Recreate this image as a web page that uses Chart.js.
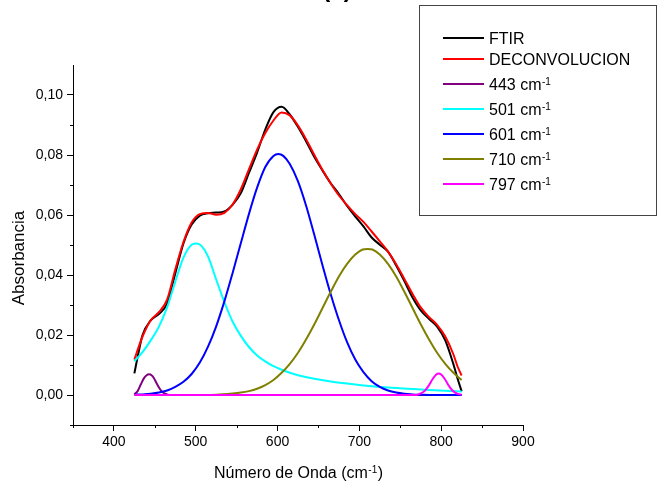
<!DOCTYPE html>
<html>
<head>
<meta charset="utf-8">
<script src="https://cdn.jsdelivr.net/npm/chart.js@4.4.1/dist/chart.umd.min.js"></script>
<style>
  body { margin: 0; background: #fff; }
  canvas { display: block; }
</style>
</head>
<body>
<canvas id="myChart" width="658" height="489"></canvas>
<script>
// values (wavenumber in cm-1, absorbance)
const gridX = [425, 430, 435, 445, 455, 465, 475, 485, 495, 505, 515, 525, 535, 545, 555, 565, 575, 585, 595, 605, 615,
  625, 635, 645, 655, 665, 675, 685, 695, 705, 715, 725, 735, 745, 755, 765, 775, 785, 795, 805, 815, 820, 825]
const ftirY = [0.0072, 0.0140, 0.0200, 0.0249, 0.0270, 0.0305, 0.0405, 0.0505, 0.0568, 0.0598, 0.0606, 0.0608, 0.0612, 0.0634, 0.0672, 0.0740, 0.0808, 0.0885, 0.0943, 0.0961, 0.0935,
  0.0893, 0.0845, 0.0793, 0.0748, 0.0706, 0.0670, 0.0630, 0.0595, 0.0562, 0.0525, 0.0501, 0.0478, 0.0432, 0.0380, 0.0325, 0.0282, 0.0254, 0.0228, 0.0182, 0.0102, 0.0055, 0.0012]
const deconvY = [0.0118, 0.0158, 0.0195, 0.0249, 0.0276, 0.0318, 0.0418, 0.0510, 0.0575, 0.0603, 0.0607, 0.0601, 0.0607, 0.0635, 0.0685, 0.0752, 0.0818, 0.0873, 0.0915, 0.0942, 0.0932,
  0.0898, 0.0852, 0.0800, 0.0750, 0.0705, 0.0665, 0.0633, 0.0603, 0.0577, 0.0545, 0.0512, 0.0478, 0.0436, 0.0387, 0.0337, 0.0292, 0.0260, 0.0234, 0.0195, 0.0135, 0.0095, 0.0065]

const p443X = [425, 429, 433, 437, 440, 443, 446, 449, 452, 456, 460, 465, 470, 825]
const p443Y = [0.0003, 0.0013, 0.0036, 0.0057, 0.0066, 0.0069, 0.0066, 0.0056, 0.0040, 0.0021, 0.0008, 0.0002, 0, 0]

const p501X = [425, 435, 445, 455, 465, 475, 485, 495, 501, 507, 515, 525, 535, 545, 555, 565, 575, 585, 595, 605, 615, 625, 645, 665, 685, 705, 725, 745, 765, 785, 805, 825]
const p501Y = [0.0113, 0.0143, 0.0182, 0.0228, 0.0292, 0.0378, 0.0458, 0.0501, 0.0505, 0.0497, 0.0462, 0.0385, 0.0310, 0.0245, 0.0198, 0.0160, 0.0132, 0.0112, 0.0096, 0.0084, 0.0074, 0.0066, 0.0054, 0.0045, 0.0038, 0.0032, 0.0027, 0.0023, 0.0020, 0.0017, 0.0014, 0.0012]

const p601X = [425, 435, 445, 455, 465, 475, 485, 495, 505, 515, 525, 535, 545, 555, 565, 575, 585, 595, 601, 607, 615,
  625, 635, 645, 655, 665, 675, 685, 695, 705, 715, 725, 735, 745, 755, 765, 775, 790, 825]
const p601Y = [0.0001, 0.0002, 0.0004, 0.0008, 0.0015, 0.0027, 0.0044, 0.0070, 0.0108, 0.0161, 0.0229, 0.0312, 0.0406, 0.0505, 0.0603, 0.0691, 0.0760, 0.0797, 0.0803, 0.0797, 0.0770,
  0.0712, 0.0630, 0.0533, 0.0432, 0.0336, 0.0250, 0.0176, 0.0118, 0.0076, 0.0046, 0.0027, 0.0015, 0.0008, 0.0004, 0.0002, 0.0001, 0, 0]

const p710X = [425, 495, 525, 545, 555, 565, 575, 585, 595, 605, 615, 625, 635, 645, 655, 665, 675, 685, 695, 704, 710, 716,
  725, 735, 745, 755, 765, 775, 785, 795, 805, 815, 825]
const p710Y = [0, 0, 0.0001, 0.0005, 0.0008, 0.0013, 0.0021, 0.0033, 0.0050, 0.0074, 0.0104, 0.0141, 0.0186, 0.0236, 0.0290, 0.0344, 0.0395, 0.0437, 0.0468, 0.0485, 0.0487, 0.0485,
  0.0468, 0.0437, 0.0395, 0.0344, 0.0290, 0.0236, 0.0186, 0.0141, 0.0104, 0.0074, 0.0050]

const p797X = [425, 770, 775, 780, 785, 790, 794, 797, 800, 804, 809, 814, 819, 825]
const p797Y = [0, 0, 0.0005, 0.0014, 0.0032, 0.0055, 0.0068, 0.0072, 0.0068, 0.0055, 0.0032, 0.0014, 0.0005, 0.0001]

const seriesLabels = ['FTIR', 'DECONVOLUCION', '443 cm-1', '501 cm-1', '601 cm-1', '710 cm-1', '797 cm-1']
const seriesColors = ['#000000', '#ff0000', '#800080', '#00ffff', '#0000ff', '#808000', '#ff00ff']

const xTicks = [400, 500, 600, 700, 800, 900]
const xMinor = [350, 450, 550, 650, 750, 850]
const yTicks = [0, 0.02, 0.04, 0.06, 0.08, 0.10]
const yMinor = [-0.01, 0.01, 0.03, 0.05, 0.07, 0.09]

const family = '"Liberation Sans", Arial, sans-serif'

let pts = (xs, ys) => xs.map((x, i) => ({ x: x, y: ys[i] }))

let seriesData = [
  pts(gridX, ftirY), pts(gridX, deconvY), pts(p443X, p443Y), pts(p501X, p501Y),
  pts(p601X, p601Y), pts(p710X, p710Y), pts(p797X, p797Y)
]

// later curves go on top, as in the original plot
let datasets = seriesData.map((d, i) => ({
  label: seriesLabels[i],
  data: d,
  borderColor: seriesColors[i],
  backgroundColor: seriesColors[i],
  borderWidth: 2,
  fill: false,
  pointRadius: 0,
  cubicInterpolationMode: 'monotone',
  order: seriesData.length - i
}))

// draws "text" with a trailing "-1" superscript when label has cm-1
function drawSup(ctx, base, sup, tail, x, y, size, align) {
  ctx.font = size + 'px ' + family
  let wBase = ctx.measureText(base).width
  let wTail = ctx.measureText(tail).width
  ctx.font = Math.round(size * 0.62) + 'px ' + family
  let wSup = ctx.measureText(sup).width
  let start = align === 'center' ? x - (wBase + wSup + wTail) / 2 : x
  ctx.textAlign = 'left'
  ctx.textBaseline = 'alphabetic'
  ctx.font = size + 'px ' + family
  ctx.fillText(base, start, y)
  ctx.font = Math.round(size * 0.62) + 'px ' + family
  ctx.fillText(sup, start + wBase + 0.5, y - size * 0.33)
  ctx.font = size + 'px ' + family
  ctx.fillText(tail, start + wBase + wSup + 1, y)
}

const extras = {
  id: 'extras',
  afterDraw(chart) {
    let ctx = chart.ctx
    let area = chart.chartArea
    let xs = chart.scales.x, ys = chart.scales.y
    ctx.save()
    ctx.strokeStyle = '#000'
    ctx.lineWidth = 1
    ctx.beginPath()
    xMinor.forEach(v => {
      let px = Math.round(xs.getPixelForValue(v)) + 0.5
      ctx.moveTo(px, area.bottom)
      ctx.lineTo(px, area.bottom + 3)
    })
    yMinor.forEach(v => {
      let py = Math.round(ys.getPixelForValue(v)) + 0.5
      ctx.moveTo(area.left, py)
      ctx.lineTo(area.left - 3, py)
    })
    ctx.stroke()

    ctx.fillStyle = '#000'
    // title, mostly cut off at the top edge
    ctx.font = 'bold 24px ' + family
    ctx.textAlign = 'center'
    ctx.textBaseline = 'alphabetic'
    ctx.fillText('(a)', 337, -3)

    // axis titles
    drawSup(ctx, 'Número de Onda (cm', '-1', ')', 298, 478, 16, 'center')
    ctx.save()
    ctx.translate(19, 258)
    ctx.rotate(-Math.PI / 2)
    ctx.font = '17px ' + family
    ctx.textAlign = 'center'
    ctx.textBaseline = 'middle'
    ctx.fillText('Absorbancia', 0, 0)
    ctx.restore()

    // legend box
    ctx.strokeStyle = '#444'
    ctx.lineWidth = 1
    ctx.strokeRect(419.5, 5.5, 237, 210)
    let rows = [38, 59, 84, 109, 134, 159, 184]
    chart.data.datasets.forEach((ds, i) => {
      let y = rows[i]
      ctx.strokeStyle = ds.borderColor
      ctx.lineWidth = 2
      ctx.beginPath()
      ctx.moveTo(443, y)
      ctx.lineTo(484, y)
      ctx.stroke()
      ctx.fillStyle = '#000'
      if (ds.label.endsWith(' cm-1')) {
        drawSup(ctx, ds.label.replace(' cm-1', ' cm'), '-1', '', 489, y + 6, 16, 'left')
      } else {
        ctx.font = '16px ' + family
        ctx.textAlign = 'left'
        ctx.textBaseline = 'alphabetic'
        ctx.fillText(ds.label, 489, y + 6)
      }
    })
    ctx.restore()
  }
}

let ctx = document.getElementById('myChart')
let chart = new Chart(ctx, {
  type: 'line',
  data: { datasets: datasets },
  plugins: [extras],
  options: {
    responsive: false,
    animation: false,
    layout: { padding: { top: 65, right: 135, bottom: 0, left: 0 } },
    plugins: { legend: { display: false }, tooltip: { enabled: false } },
    scales: {
      x: {
        type: 'linear',
        min: 350,
        max: 900,
        afterBuildTicks: s => { s.ticks = xTicks.map(v => ({ value: v })) },
        afterFit: s => { s.height = 64 },
        grid: { drawOnChartArea: false, tickLength: 6, color: '#000' },
        border: { color: '#000', width: 1 },
        ticks: { color: '#000', font: { family: family, size: 14 }, padding: 3, maxRotation: 0, autoSkip: false }
      },
      y: {
        type: 'linear',
        min: -0.01,
        max: 0.11,
        afterBuildTicks: s => { s.ticks = yTicks.map(v => ({ value: v })) },
        afterFit: s => { s.width = 73 },
        grid: { drawOnChartArea: false, tickLength: 6, color: '#000' },
        border: { color: '#000', width: 1 },
        ticks: {
          color: '#000',
          font: { family: family, size: 14 },
          padding: 4,
          autoSkip: false,
          callback: v => (Math.abs(v) < 1e-9 ? 0 : v).toFixed(2).replace('.', ',')
        }
      }
    }
  }
})
</script>
</body>
</html>
